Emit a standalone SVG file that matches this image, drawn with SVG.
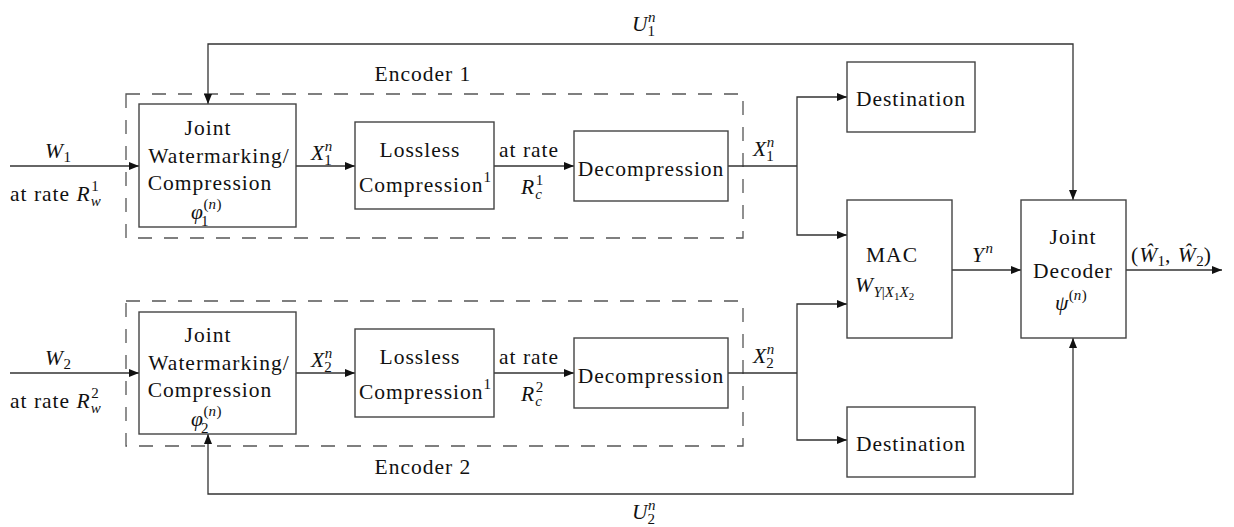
<svg xmlns="http://www.w3.org/2000/svg" width="1234" height="527" viewBox="0 0 1234 527" font-family="'Liberation Serif', 'Times New Roman', 'DejaVu Serif', serif">
  <defs>
    <marker id="arr" viewBox="0 0 10 8" refX="10" refY="4" markerWidth="10" markerHeight="8" markerUnits="userSpaceOnUse" orient="auto-start-reverse">
      <path d="M0,0 L10,4 L0,8 Z" fill="#111"/>
    </marker>
    <style>
      text { font-family: 'Liberation Serif', 'Times New Roman', 'DejaVu Serif', serif; font-size: 21.5px; letter-spacing: 1px; fill: #111; }
      .it { font-style: italic; letter-spacing: 0.5px; }
      .sm { font-size: 15px; letter-spacing: 0; }
      .xs { font-size: 11px; letter-spacing: 0; }
      .box { fill: #fff; stroke: #444; stroke-width: 1.4; }
      .enc { fill: none; stroke: #555; stroke-width: 1.3; stroke-dasharray: 14 12; }
      .wire { fill: none; stroke: #333; stroke-width: 1.3; }
    </style>
  </defs>
  <rect width="1234" height="527" fill="#fff"/>

  <!-- encoder frames -->
  <g id="encoder1-frame">
    <rect class="enc" x="126" y="94" width="617" height="144"/>
    <text x="423" y="81" text-anchor="middle">Encoder 1</text>
  </g>
  <g id="encoder2-frame">
    <rect class="enc" x="126" y="301" width="617" height="145"/>
    <text x="423" y="474" text-anchor="middle">Encoder 2</text>
  </g>

  <!-- connectors -->
  <g id="connectors">
    <path class="wire" d="M10,166 H139" marker-end="url(#arr)"/>
    <path class="wire" d="M296,166 H355" marker-end="url(#arr)"/>
    <path class="wire" d="M494,166 H574" marker-end="url(#arr)"/>
    <path class="wire" d="M728,166 H797"/>
    <path class="wire" d="M797,166 V97 H847" marker-end="url(#arr)"/>
    <path class="wire" d="M797,166 V235 H847" marker-end="url(#arr)"/>

    <path class="wire" d="M10,373 H139" marker-end="url(#arr)"/>
    <path class="wire" d="M296,373 H355" marker-end="url(#arr)"/>
    <path class="wire" d="M494,373 H574" marker-end="url(#arr)"/>
    <path class="wire" d="M728,373 H797"/>
    <path class="wire" d="M797,373 V304 H847" marker-end="url(#arr)"/>
    <path class="wire" d="M797,373 V440 H847" marker-end="url(#arr)"/>

    <path class="wire" d="M952,270 H1021" marker-end="url(#arr)"/>
    <path class="wire" d="M1126,270 H1222" marker-end="url(#arr)"/>

    <path class="wire" d="M208,104 V44 H1073 V200" marker-start="url(#arr)" marker-end="url(#arr)"/>
    <path class="wire" d="M208,434 V494 H1073 V338" marker-start="url(#arr)" marker-end="url(#arr)"/>
  </g>

  <!-- wire labels -->
  <g id="labels">
    <text x="45" y="158"><tspan class="it">W</tspan><tspan class="sm" dy="4">1</tspan></text>
    <text x="10" y="201">at rate <tspan class="it">R</tspan><tspan class="sm" dx="1" dy="-10">1</tspan><tspan class="sm it" dx="-8" dy="15">w</tspan></text>

    <text x="45" y="365"><tspan class="it">W</tspan><tspan class="sm" dy="4">2</tspan></text>
    <text x="10" y="408">at rate <tspan class="it">R</tspan><tspan class="sm" dx="1" dy="-10">2</tspan><tspan class="sm it" dx="-8" dy="15">w</tspan></text>

    <text x="311" y="160"><tspan class="it">X</tspan><tspan class="sm it" dy="-9">n</tspan><tspan class="sm" dx="-8" dy="14">1</tspan></text>
    <text x="311" y="367"><tspan class="it">X</tspan><tspan class="sm it" dy="-9">n</tspan><tspan class="sm" dx="-8" dy="14">2</tspan></text>

    <text x="499" y="157">at rate</text>
    <text x="521" y="194"><tspan class="it">R</tspan><tspan class="sm" dx="1" dy="-9">1</tspan><tspan class="sm it" dx="-8" dy="14">c</tspan></text>
    <text x="499" y="364">at rate</text>
    <text x="521" y="401"><tspan class="it">R</tspan><tspan class="sm" dx="1" dy="-9">2</tspan><tspan class="sm it" dx="-8" dy="14">c</tspan></text>

    <text x="753" y="156"><tspan class="it">X</tspan><tspan class="sm it" dy="-9">n</tspan><tspan class="sm" dx="-8" dy="14">1</tspan></text>
    <text x="753" y="363"><tspan class="it">X</tspan><tspan class="sm it" dy="-9">n</tspan><tspan class="sm" dx="-8" dy="14">2</tspan></text>

    <text x="972" y="262"><tspan class="it">Y</tspan><tspan class="sm it" dx="1" dy="-9">n</tspan></text>

    <text x="1131" y="262">(<tspan class="it">Ŵ</tspan><tspan class="sm" dy="4">1</tspan><tspan dy="-4">, </tspan><tspan class="it">Ŵ</tspan><tspan class="sm" dy="4">2</tspan><tspan dy="-4">)</tspan></text>

    <text x="632" y="31"><tspan class="it">U</tspan><tspan class="sm it" dy="-9">n</tspan><tspan class="sm" dx="-8" dy="14">1</tspan></text>
    <text x="632" y="519"><tspan class="it">U</tspan><tspan class="sm it" dy="-9">n</tspan><tspan class="sm" dx="-8" dy="14">2</tspan></text>
  </g>

  <!-- encoder 1 blocks -->
  <g id="jwc1">
    <rect class="box" x="139" y="104" width="157" height="123"/>
    <text x="208" y="135" text-anchor="middle">Joint</text>
    <text x="219" y="163" text-anchor="middle">Watermarking/</text>
    <text x="210" y="190" text-anchor="middle">Compression</text>
    <text x="191" y="219"><tspan class="it">φ</tspan><tspan class="sm" dx="0" dy="-10">(<tspan class="it">n</tspan>)</tspan></text>
    <text class="sm" x="201" y="226">1</text>
  </g>
  <g id="lossless1">
    <rect class="box" x="355" y="122" width="139" height="87"/>
    <text x="420" y="157" text-anchor="middle">Lossless</text>
    <text x="425" y="192" text-anchor="middle">Compression<tspan class="sm" dy="-10">1</tspan></text>
  </g>
  <g id="decomp1">
    <rect class="box" x="574" y="131" width="154" height="70"/>
    <text x="651" y="176" text-anchor="middle">Decompression</text>
  </g>

  <!-- encoder 2 blocks -->
  <g id="jwc2">
    <rect class="box" x="139" y="312" width="157" height="122"/>
    <text x="208" y="342" text-anchor="middle">Joint</text>
    <text x="219" y="370" text-anchor="middle">Watermarking/</text>
    <text x="210" y="397" text-anchor="middle">Compression</text>
    <text x="191" y="426"><tspan class="it">φ</tspan><tspan class="sm" dx="0" dy="-10">(<tspan class="it">n</tspan>)</tspan></text>
    <text class="sm" x="201" y="433">2</text>
  </g>
  <g id="lossless2">
    <rect class="box" x="355" y="329" width="139" height="88"/>
    <text x="420" y="364" text-anchor="middle">Lossless</text>
    <text x="425" y="399" text-anchor="middle">Compression<tspan class="sm" dy="-10">1</tspan></text>
  </g>
  <g id="decomp2">
    <rect class="box" x="574" y="338" width="154" height="70"/>
    <text x="651" y="383" text-anchor="middle">Decompression</text>
  </g>

  <!-- channel side -->
  <g id="destination1">
    <rect class="box" x="847" y="62" width="128" height="70"/>
    <text x="911" y="106" text-anchor="middle">Destination</text>
  </g>
  <g id="destination2">
    <rect class="box" x="847" y="407" width="128" height="70"/>
    <text x="911" y="451" text-anchor="middle">Destination</text>
  </g>
  <g id="mac">
    <rect class="box" x="847" y="200" width="105" height="138"/>
    <text x="892" y="262" text-anchor="middle">MAC</text>
    <text x="855" y="292"><tspan class="it">W</tspan><tspan class="sm it" dy="5">Y</tspan><tspan class="sm">|</tspan><tspan class="sm it">X</tspan><tspan class="xs" dy="3">1</tspan><tspan class="sm it" dy="-3">X</tspan><tspan class="xs" dy="3">2</tspan></text>
  </g>
  <g id="decoder">
    <rect class="box" x="1021" y="200" width="105" height="138"/>
    <text x="1073" y="244" text-anchor="middle">Joint</text>
    <text x="1073" y="278" text-anchor="middle">Decoder</text>
    <text x="1055" y="310"><tspan class="it">ψ</tspan><tspan class="sm" dy="-10">(<tspan class="it">n</tspan>)</tspan></text>
  </g>
</svg>
